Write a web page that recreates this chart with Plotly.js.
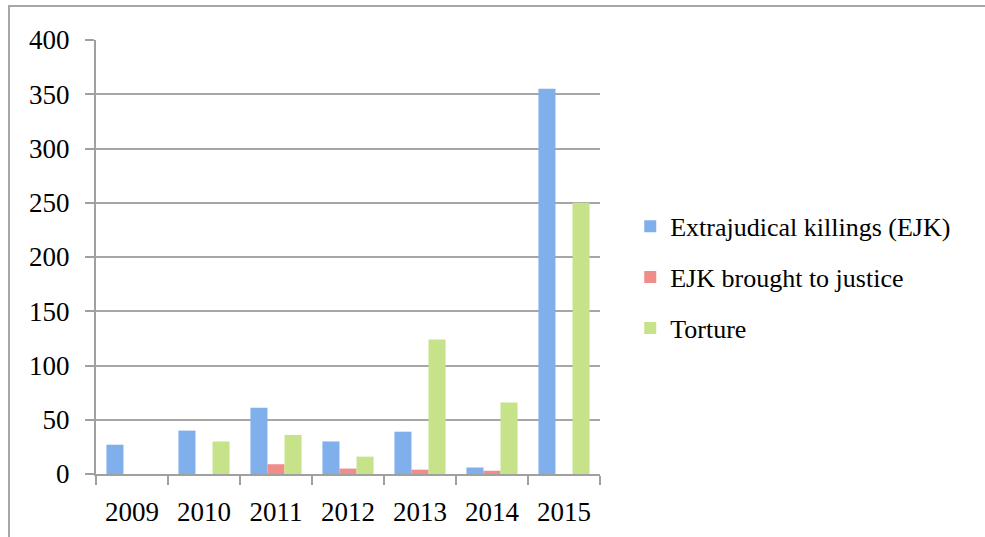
<!DOCTYPE html>
<html>
<head>
<meta charset="utf-8">
<script src="https://cdn.plot.ly/plotly-3.0.1.min.js"></script>
<style>
html,body{margin:0;padding:0;background:#fff;overflow:hidden;}
#frame{position:absolute;left:8px;top:5px;width:1000px;height:600px;border-left:2px solid #a6a6a6;border-top:2px solid #a6a6a6;box-sizing:border-box;pointer-events:none;z-index:5;}
#chart{position:absolute;left:0;top:0;width:985px;height:537px;}
</style>
</head>
<body>
<div id="chart"></div>
<div id="frame"></div>
<script>
var years = ['2009','2010','2011','2012','2013','2014','2015'];
var ejk = [27, 40, 61, 30, 39, 6, 355];
var ejkJustice = [0, 0, 9, 5, 4, 3, 0];
var torture = [0, 30, 36, 16, 124, 66, 250];
var seriesNames = ['Extrajudical killings (EJK)', 'EJK brought to justice', 'Torture'];
var yTicks = [0, 50, 100, 150, 200, 250, 300, 350, 400];

var font = {family: 'Liberation Serif, serif', size: 27, color: '#000'};

function bar(name, vals, color, group) {
  return {
    type: 'bar', name: name, x: years, y: vals,
    legendgroup: group,
    marker: {color: color, line: {width: 0}},
    hoverinfo: 'x+y'
  };
}

var data = [
  bar(seriesNames[0], ejk, '#7fb0ec', 'a'),
  bar(seriesNames[1], ejkJustice, '#f08c8a', 'b'),
  bar(seriesNames[2], torture, '#c6e38a', 'c')
];

var layout = {
  width: 985, height: 537,
  margin: {l: 96, r: 385, t: 40, b: 63},
  paper_bgcolor: '#fff', plot_bgcolor: '#fff',
  font: font,
  barmode: 'group',
  bargap: 0.29, bargroupgap: 0,
  showlegend: true,
  legend: {
    x: 1.06, xanchor: 'left', y: 0.453, yanchor: 'middle',
    font: {family: 'Liberation Serif, serif', size: 26, color: '#000'},
    tracegroupgap: 14, itemwidth: 30,
    bgcolor: 'rgba(0,0,0,0)'
  },
  xaxis: {
    type: 'category',
    showline: true, linecolor: '#a0a0a0', linewidth: 2,
    ticks: 'outside', tickson: 'boundaries', ticklen: 9, tickcolor: '#a0a0a0', tickwidth: 2,
    showgrid: false, zeroline: false,
    tickfont: {family: 'Liberation Serif, serif', size: 27, color: '#000'},
    ticklabelstandoff: 13
  },
  yaxis: {
    range: [0, 400],
    tickvals: yTicks, ticktext: yTicks.map(String),
    showline: true, linecolor: '#a0a0a0', linewidth: 2,
    ticks: 'outside', ticklen: 9, tickcolor: '#a0a0a0', tickwidth: 2,
    showgrid: true, gridcolor: '#a6a6a6', gridwidth: 2,
    zeroline: false,
    tickfont: {family: 'Liberation Serif, serif', size: 27, color: '#000'},
    ticklabelstandoff: 10
  }
};

Plotly.newPlot('chart', data, layout, {displayModeBar: false, staticPlot: true});
</script>
</body>
</html>
